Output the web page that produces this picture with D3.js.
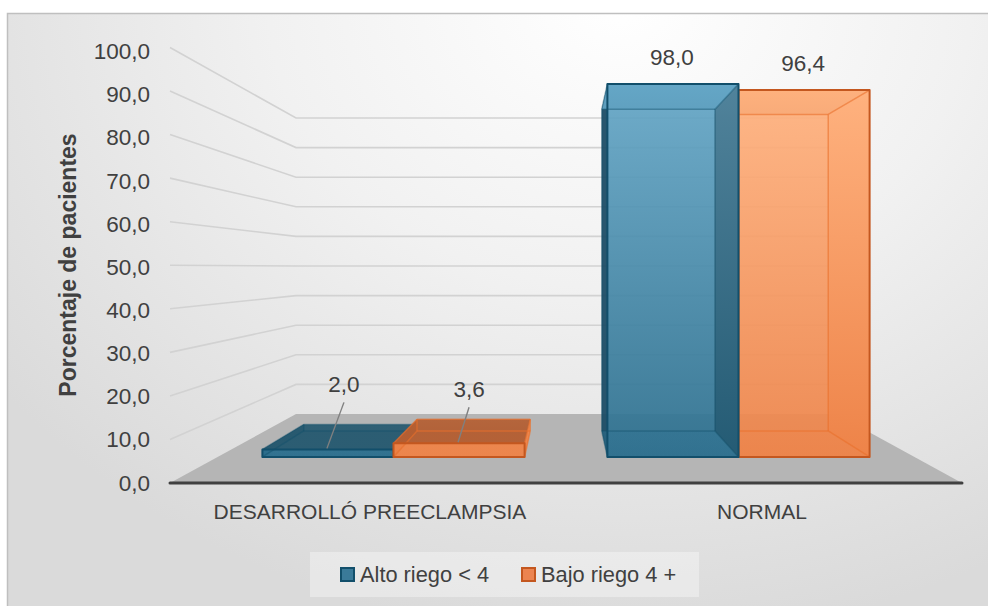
<!DOCTYPE html>
<html>
<head>
<meta charset="utf-8">
<script src="https://cdnjs.cloudflare.com/ajax/libs/d3/7.8.5/d3.min.js"></script>
<style>
html, body { margin: 0; padding: 0; background: #fff; }
text { font-family: "Liberation Sans", Arial, sans-serif; fill: #404040; }
</style>
</head>
<body>
<svg class="view" width="988" height="606"></svg>
<script>
var categories = ['DESARROLLÓ PREECLAMPSIA', 'NORMAL'];
var seriesNames = ['Alto riego < 4', 'Bajo riego 4 +'];
var altoRiego = [2.0, 98.0];
var bajoRiego = [3.6, 96.4];
var ticks = [0, 10, 20, 30, 40, 50, 60, 70, 80, 90, 100];

// colours of each series: light top, dark bottom of the box faces
var frontTopCol = ['#64a6c6', '#ffb27f'];
var frontLowCol = ['#2c6f8e', '#ee8348'];
var capLowCol = ['#285a70', '#b25e33'];
var sideTopCol = ['#4f8199', '#ffb27f'];
var sideLowCol = ['#235a73', '#ee8348'];
var leftCol = ['#1c4d66', '#c4571f'];
var seriesEdge = ['#124f6b', '#c4571f'];
var innerEdge = ['#124f6b', '#e9702c'];
var innerAlpha = [0.45, 0.6];
var legendFill = ['#3a7a99', '#ec8450'];

var svg = d3.select('.view');
var fmt = function (v) { return v.toFixed(1).replace('.', ','); };

// front plane of the 3D box, depth goes 0 (front) to 1 (back)
var frontL = 170, frontR = 962, frontY = 483, frontTop = 47.5;
var backL = 296, backR = 836, backY = 414, backTop = 118;
var barFront = 0.377, barBack = 0.754;
var barShrink = 0.994;

var xAt = function (d) {
    return d3.scaleLinear().domain([0, 1]).range([frontL + (backL - frontL) * d, frontR + (backR - frontR) * d]);
};
var yAt = function (d) {
    return d3.scaleLinear().domain([0, 100]).range([frontY + (backY - frontY) * d, frontTop + (backTop - frontTop) * d]);
};
var yLabel = d3.scaleLinear().domain([0, 100]).range([482.5, 51]);
var x0 = d3.scaleBand().domain(categories).range([0.005, 0.995]).paddingInner(0.24).paddingOuter(0.12);
var x1 = d3.scaleBand().domain([0, 1]).range([0, x0.bandwidth()]);

var defs = svg.append('defs');
var bg = defs.append('radialGradient').attr('id', 'bg').attr('gradientUnits', 'userSpaceOnUse')
    .attr('cx', 0).attr('cy', 0).attr('r', 1)
    .attr('gradientTransform', 'translate(620,0) scale(780,640)');
bg.append('stop').attr('offset', '0%').attr('stop-color', '#ffffff');
bg.append('stop').attr('offset', '45%').attr('stop-color', '#f1f1f1');
bg.append('stop').attr('offset', '100%').attr('stop-color', '#dadada');

function vGrad(id, top, low, y1, y2) {
    var g = defs.append('linearGradient').attr('id', id)
        .attr('gradientUnits', 'userSpaceOnUse').attr('x1', 0).attr('x2', 0).attr('y1', y1).attr('y2', y2);
    g.append('stop').attr('offset', '0%').attr('stop-color', top);
    g.append('stop').attr('offset', '100%').attr('stop-color', low);
}
[0, 1].forEach(function (s) {
    vGrad('front' + s, frontTopCol[s], frontLowCol[s], 84, 457);
    vGrad('cap' + s, frontTopCol[s], capLowCol[s], 84, 431);
    vGrad('side' + s, sideTopCol[s], sideLowCol[s], 84, 457);
});

svg.append('rect').attr('x', 7.5).attr('y', 13.5).attr('width', 990).attr('height', 600)
    .attr('fill', 'url(#bg)').attr('stroke', '#bfbfbf').attr('stroke-width', 1.5);

var poly = d3.line();

// floor
svg.append('path')
    .attr('d', poly([[frontL, frontY], [backL, backY], [backR, backY], [frontR, frontY]]) + 'Z')
    .attr('fill', '#b5b5b5');

// grid lines running along the wall and the back
svg.append('g').selectAll('path').data(ticks.slice(1)).enter().append('path')
    .attr('d', function (t) {
        return poly([[frontL, yAt(0)(t)], [backL, yAt(1)(t)], [backR, yAt(1)(t)]]);
    })
    .attr('fill', 'none').attr('stroke', '#d2d2d2').attr('stroke-width', 1.6);

// value axis labels
svg.append('g').selectAll('text').data(ticks).enter().append('text')
    .attr('x', 150).attr('y', function (t) { return yLabel(t); })
    .attr('dy', '0.36em').attr('text-anchor', 'end').attr('font-size', 22.5)
    .text(fmt);

svg.append('line').attr('x1', frontL).attr('x2', frontR).attr('y1', frontY).attr('y2', frontY)
    .attr('stroke', '#404040').attr('stroke-width', 3).attr('stroke-linecap', 'round');

svg.append('text').attr('transform', 'translate(76,265) rotate(-90)')
    .attr('text-anchor', 'middle').attr('font-size', 23).attr('font-weight', 700).attr('fill', '#262626')
    .text('Porcentaje de pacientes');

svg.append('g').selectAll('text').data(categories).enter().append('text')
    .attr('x', function (c) { return xAt(0)(x0(c) + x0.bandwidth() / 2); })
    .attr('y', 519).attr('text-anchor', 'middle').attr('font-size', 21)
    .text(function (c) { return c; });

// bars, each box built face by face
function drawBar(g, cat, s, v) {
    var a = x0(cat) + x1(s), b = a + x1.bandwidth();
    var pt = function (fx, val, d) { return [xAt(d)(fx), yAt(d)(val * barShrink)]; };
    var fl = pt(a, 0, barFront), fr = pt(b, 0, barFront), ftl = pt(a, v, barFront), ftr = pt(b, v, barFront);
    var bl = pt(a, 0, barBack), br = pt(b, 0, barBack), btl = pt(a, v, barBack), btr = pt(b, v, barBack);
    var face = function (pts, fill, op) {
        g.append('path').attr('d', poly(pts) + 'Z').attr('fill', fill).attr('fill-opacity', op);
    };
    face([bl, fl, ftl, btl], leftCol[s], 0.95);
    face([fl, fr, ftr, ftl], 'url(#front' + s + ')', 0.92);
    face([bl, br, fr, fl], 'url(#front' + s + ')', 0.5);
    face([br, fr, ftr, btr], 'url(#side' + s + ')', 0.95);
    face([btl, btr, ftr, ftl], 'url(#cap' + s + ')', 0.95);
    // inner edges are seen through the box
    [[btl, btr], [btr, br], [br, bl], [bl, btl], [btr, ftr], [br, fr], [btl, ftl], [bl, fl]].forEach(function (e) {
        g.append('path').attr('d', poly(e)).attr('fill', 'none')
            .attr('stroke', innerEdge[s]).attr('stroke-opacity', innerAlpha[s]).attr('stroke-width', 1.5);
    });
    g.append('path').attr('d', poly([fl, ftl, ftr, fr]) + 'Z').attr('fill', 'none')
        .attr('stroke', seriesEdge[s]).attr('stroke-width', 2).attr('stroke-linejoin', 'round');
}
var values = [altoRiego, bajoRiego];
// painter's order: boxes right of the vanishing point are drawn from the right
categories.forEach(function (c, i) {
    var order = i === 0 ? [0, 1] : [1, 0];
    order.forEach(function (s) {
        drawBar(svg.append('g'), c, s, values[s][i]);
    });
});

// data labels, the small bars get leader lines
[0, 1].forEach(function (s) {
    categories.forEach(function (c, i) {
        var v = values[s][i];
        var cx = xAt(barFront)(x0(c) + x1(s) + x1.bandwidth() / 2);
        var top = yAt(barFront)(v * barShrink);
        var small = v < 10;
        var lx = small ? cx + (s === 0 ? 16 : 10) : cx - 1;
        var ly = small ? top - (s === 0 ? 65 : 54) : top - 27;
        if (small) {
            svg.append('line').attr('x1', lx - (s === 0 ? 17 : 11)).attr('y1', top - 1)
                .attr('x2', lx).attr('y2', ly + 18)
                .attr('stroke', '#808080').attr('stroke-width', 1.4);
        }
        svg.append('text').attr('x', lx).attr('y', ly).attr('dy', '0.36em')
            .attr('text-anchor', 'middle').attr('font-size', 22.5).text(fmt(v));
    });
});

// legend
var legend = svg.append('g');
legend.append('rect').attr('x', 310).attr('y', 552).attr('width', 389).attr('height', 45)
    .attr('fill', '#fff').attr('fill-opacity', 0.35);
var legendX = [341, 522];
seriesNames.forEach(function (n, i) {
    legend.append('rect').attr('x', legendX[i]).attr('y', 568).attr('width', 13).attr('height', 13)
        .attr('fill', legendFill[i])
        .attr('stroke', seriesEdge[i]).attr('stroke-width', 2);
    legend.append('text').attr('x', legendX[i] + 19).attr('y', 574).attr('dy', '0.36em')
        .attr('font-size', 21.8).text(n);
});
</script>
</body>
</html>
